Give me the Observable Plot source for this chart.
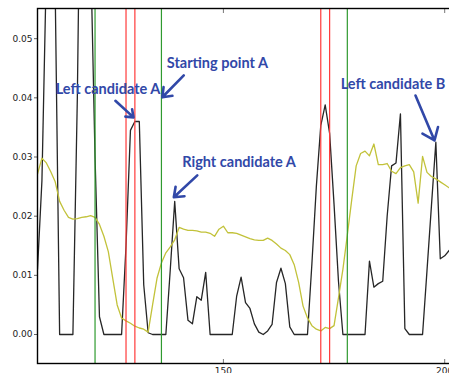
<!DOCTYPE html>
<html><head><meta charset="utf-8">
<script src="https://cdn.jsdelivr.net/npm/d3@7"></script>
<script src="https://cdn.jsdelivr.net/npm/@observablehq/plot@0.6"></script>
<style>
html,body{margin:0;padding:0;background:#fff;}
#wrap{width:449px;height:373px;overflow:hidden;position:relative;}
</style></head><body><div id="wrap"></div>
<script>
const xs = [108,109,110,111,112,113,114,115,116,117,118,119,120,121,122,123,124,125,126,127,128,129,130,131,132,133,134,135,136,137,138,139,140,141,142,143,144,145,146,147,148,149,150,151,152,153,154,155,156,157,158,159,160,161,162,163,164,165,166,167,168,169,170,171,172,173,174,175,176,177,178,179,180,181,182,183,184,185,186,187,188,189,190,191,192,193,194,195,196,197,198,199,200,201];
const blackValues = [0.011,0.026,0.062,0.07,0.058,0,0,0,0,0.04,0.1,0.09,0.065,0.03,0.003,0,0,0,0,0,0.015,0.0345,0.036,0.036,0.0084,0.0003,0,0,0,0,0.011,0.0225,0.0111,0.0096,0.0024,0.0018,0.0064,0.0058,0.0105,0,0,0,0,0,0,0.0065,0.0097,0.0054,0.0044,0.0018,0.0004,0,0.0006,0.0017,0.0088,0.0112,0.0086,0.0013,0,0,0,0,0.012,0.025,0.0353,0.0388,0.034,0.022,0.009,0,0,0,0,0,0,0.0124,0.008,0.0086,0.009,0.02,0.0285,0.029,0.0373,0.001,0,0,0,0,0.0108,0.0217,0.0325,0.0128,0.0133,0.0142];
const yellowValues = [0.0271,0.0298,0.029,0.0275,0.0258,0.0225,0.021,0.0198,0.0195,0.0196,0.0198,0.0199,0.0201,0.0198,0.0186,0.0166,0.014,0.0095,0.005,0.0028,0.0023,0.0019,0.0014,0.0011,0.0009,0.0004,0.005,0.0095,0.0121,0.0138,0.0148,0.016,0.0181,0.0178,0.0176,0.0176,0.0175,0.0173,0.0173,0.0171,0.0166,0.0178,0.0183,0.0172,0.0172,0.0171,0.0168,0.0165,0.0162,0.016,0.0159,0.0159,0.0163,0.0159,0.0153,0.0146,0.0142,0.0135,0.0118,0.0088,0.0048,0.0028,0.0015,0.0009,0.0006,0.0012,0.001,0.0015,0.0062,0.011,0.0168,0.0228,0.0285,0.0306,0.031,0.0302,0.0322,0.0287,0.0287,0.0289,0.0276,0.0272,0.0282,0.0285,0.0287,0.0275,0.0222,0.0301,0.0274,0.0267,0.0263,0.0258,0.0253,0.0248];
const greenLines = [121, 136, 178];
const redLines = [128, 130, 172, 174];
const yTicks = [0, 0.01, 0.02, 0.03, 0.04, 0.05];
const xTicks = [150, 200];
const labels = ["Left candidate A", "Starting point A", "Right candidate A", "Left candidate B"];
const labelX = [112.1, 137.2, 140.7, 176.5];
const labelY = [0.0414, 0.0458, 0.0291, 0.0422];
const arrowFromX = [125.6, 141.05, 144.1, 193.4];
const arrowFromY = [0.0395, 0.0438, 0.0269, 0.0404];
const arrowToX = [129.7, 136.2, 138.8, 197.7];
const arrowToY = [0.0367, 0.0401, 0.0232, 0.0328];

const series = xs.map((x, i) => ({x, black: blackValues[i], yellow: yellowValues[i]}));
const notes = labels.map((t, i) => ({t, x: labelX[i], y: labelY[i], x1: arrowFromX[i], y1: arrowFromY[i], x2: arrowToX[i], y2: arrowToY[i]}));
const blue = "#3148a8";

const chart = Plot.plot({
  width: 470, height: 373,
  marginLeft: 37, marginTop: 8, marginBottom: 10, marginRight: 10,
  x: {domain: [108, 203.57]},
  y: {domain: [-0.0049, 0.0551]},
  style: {fontFamily: "DejaVu Sans", fontSize: "9px", background: "#fff", maxWidth: "none", color: "#222"},
  marks: [
    Plot.line(series, {x: "x", y: "black", stroke: "#262626", strokeWidth: 1.3, clip: true}),
    Plot.line(series, {x: "x", y: "yellow", stroke: "#c2c23a", strokeWidth: 1.3, clip: true}),
    Plot.ruleX(greenLines, {stroke: "#2f9a2f", strokeWidth: 1.2}),
    Plot.ruleX(redLines, {stroke: "#ff3a3a", strokeWidth: 1.2}),
    Plot.axisY(yTicks, {tickSize: 3, tickPadding: 2, tickFormat: d3.format(".2f"), stroke: "#666"}),
    Plot.axisX(xTicks, {tickSize: 0, tickPadding: 4, tickFormat: d => String(d)}),
    Plot.axisX(xTicks, {tickSize: -4, tickFormat: () => "", stroke: "#777"}),
    Plot.axisX(xTicks, {anchor: "top", tickSize: -4, tickFormat: () => "", stroke: "#777"}),
    Plot.frame({stroke: "#000", strokeWidth: 1.4}),
    Plot.arrow(notes, {x1: "x1", y1: "y1", x2: "x2", y2: "y2", stroke: blue, strokeWidth: 2.6, headLength: 8, headAngle: 75}),
    Plot.text(notes, {x: "x", y: "y", text: "t", textAnchor: "start", lineAnchor: "middle", fill: blue, fontFamily: "Lato", fontWeight: "bold", fontSize: 14.5})
  ]
});
document.getElementById("wrap").appendChild(chart);
</script></body></html>
